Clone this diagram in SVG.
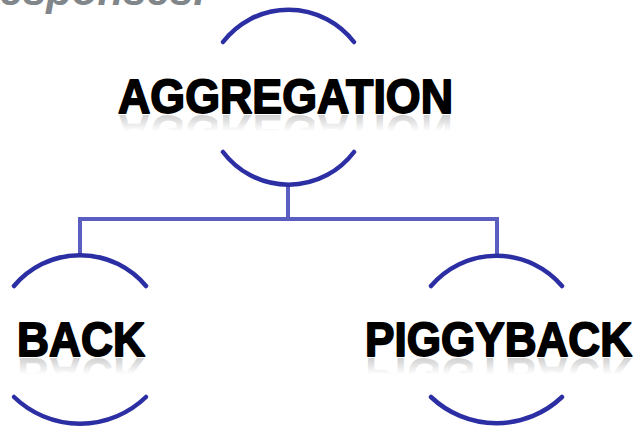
<svg xmlns="http://www.w3.org/2000/svg" width="635" height="428" viewBox="0 0 635 428">
  <defs>
    <style>
      .arc { fill: none; stroke: #2c2ea3; stroke-width: 4.5; stroke-linecap: round; }
      .link { fill: none; stroke: #5a5ec0; stroke-width: 4; }
      .label { font-family: "Liberation Sans", Arial, sans-serif; font-weight: bold; font-size: 48px; fill: #000; stroke: #000; stroke-width: 1.8; stroke-linejoin: round; }
      .mirror { font-family: "Liberation Sans", Arial, sans-serif; font-weight: bold; font-size: 48px; fill: url(#fade); }
      .caption { font-family: "Liberation Sans", Arial, sans-serif; font-weight: bold; font-style: italic; font-size: 42px; fill: #80868a; }
    </style>
    <!-- reflection fade: strongest next to the baseline -->
    <linearGradient id="fade" x1="0" y1="0" x2="0" y2="1">
      <stop offset="0" stop-color="#000" stop-opacity="0"/>
      <stop offset="0.5" stop-color="#000" stop-opacity="0"/>
      <stop offset="1" stop-color="#000" stop-opacity="0.3"/>
    </linearGradient>
  </defs>

  <rect width="635" height="428" fill="#fff"/>

  <!-- heading line running off the top edge -->
  <text class="caption" x="205" y="5" text-anchor="end">responses.</text>

  <!-- connectors -->
  <g id="connectors">
    <path class="link" d="M288,185 V219"/>
    <path class="link" d="M80,254 V219 H497 V254"/>
  </g>

  <g id="aggregation">
    <path class="arc" d="M223,42 A82.5,82.5 0 0 1 354,42"/>
    <path class="arc" d="M223,152 A82,82 0 0 0 354,152"/>
    <text class="mirror" x="118" y="113" textLength="335" lengthAdjust="spacingAndGlyphs" transform="translate(0,228) scale(1,-1)">AGGREGATION</text>
    <text class="label" x="118" y="113" textLength="335" lengthAdjust="spacingAndGlyphs">AGGREGATION</text>
  </g>

  <g id="back">
    <path class="arc" d="M14,286 A86,86 0 0 1 146,286"/>
    <path class="arc" d="M14,397 A95,95 0 0 0 146,397"/>
    <text class="mirror" x="17" y="356" textLength="128" lengthAdjust="spacingAndGlyphs" transform="translate(0,714) scale(1,-1)">BACK</text>
    <text class="label" x="17" y="356" textLength="128" lengthAdjust="spacingAndGlyphs">BACK</text>
  </g>

  <g id="piggyback">
    <path class="arc" d="M431,286 A86,86 0 0 1 562,286"/>
    <path class="arc" d="M431,397 A95,95 0 0 0 562,397"/>
    <text class="mirror" x="365" y="356" textLength="267" lengthAdjust="spacingAndGlyphs" transform="translate(0,714) scale(1,-1)">PIGGYBACK</text>
    <text class="label" x="365" y="356" textLength="267" lengthAdjust="spacingAndGlyphs">PIGGYBACK</text>
  </g>
</svg>
